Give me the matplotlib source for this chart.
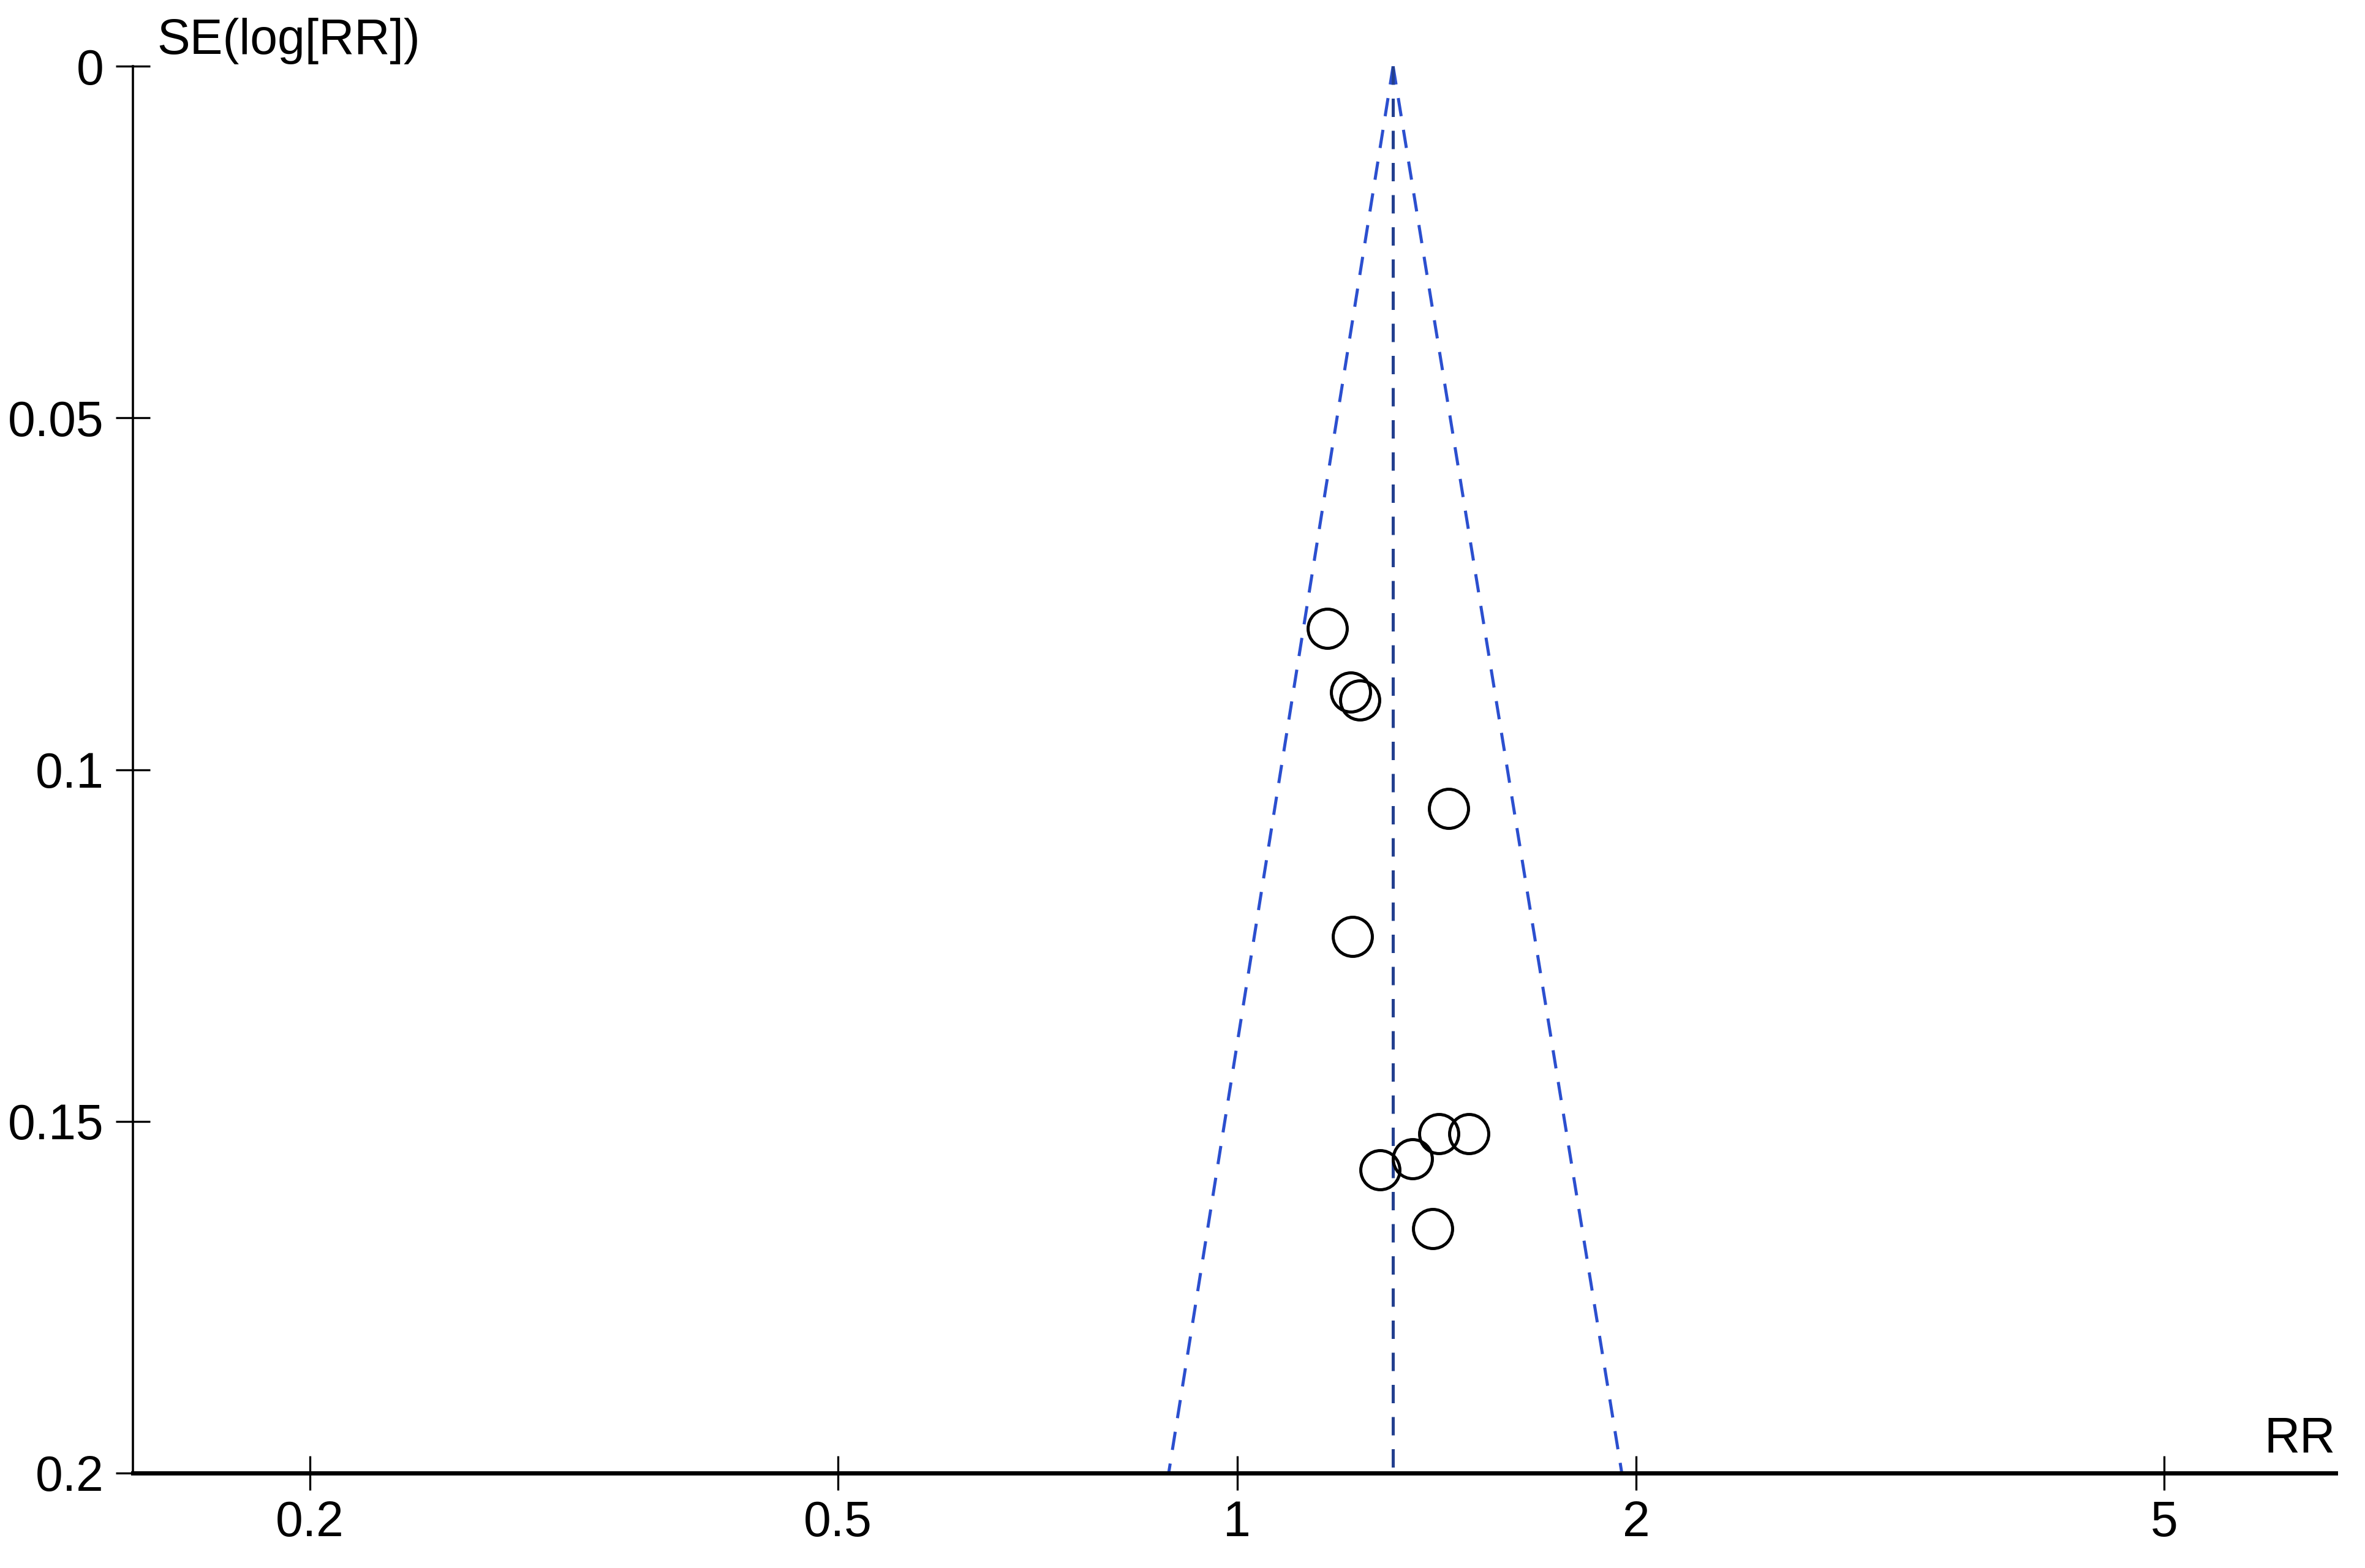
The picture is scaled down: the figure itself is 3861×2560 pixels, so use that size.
import numpy as np
import matplotlib
matplotlib.use('Agg')
import matplotlib.pyplot as plt

# study estimates
rr = [1.170, 1.218, 1.237, 1.443, 1.222, 1.420, 1.495, 1.356, 1.281, 1.404]
se = [0.0799, 0.0890, 0.0901, 0.1055, 0.1237, 0.1518, 0.1518, 0.1553, 0.1569, 0.1653]

# pooled estimate and funnel limits (apex at se=0, base at se=0.2)
pooled_rr = 1.311
funnel_se = [0, 0.2]
funnel_left = [1.311, 0.888]
funnel_right = [1.311, 1.95]

xticks = [0.2, 0.5, 1, 2, 5]
xticklabels = ['0.2', '0.5', '1', '2', '5']
yticks = [0, 0.05, 0.1, 0.15, 0.2]
yticklabels = ['0', '0.05', '0.1', '0.15', '0.2']

plt.rcParams['font.family'] = ['Liberation Sans', 'DejaVu Sans']

fig = plt.figure(figsize=(19.31, 12.8), dpi=200)
ax = fig.add_axes([0.0561, 0.0606, 0.9311, 0.8971])

blue = '#2b4fcf'
ax.plot(funnel_left, funnel_se, color=blue, lw=1.8, dashes=(6, 4.5))
ax.plot(funnel_right, funnel_se, color=blue, lw=1.8, dashes=(6, 4.5))
ax.plot([pooled_rr, pooled_rr], funnel_se, color='#23408f', lw=1.8, dashes=(6, 4.5))

ax.plot(rr, se, 'o', ms=23, mfc='none', mec='black', mew=1.8)

ax.set_xscale('log')
ax.set_xlim(0.147, 6.73)
ax.set_ylim(0.2, 0)

ax.set_xticks(xticks)
ax.set_xticklabels(xticklabels)
ax.xaxis.set_minor_locator(matplotlib.ticker.NullLocator())
ax.set_yticks(yticks)
ax.set_yticklabels(yticklabels)

ax.tick_params(axis='both', direction='inout', length=20, width=1.2, labelsize=29, colors='black')
ax.tick_params(axis='y', pad=7)
ax.tick_params(axis='x', pad=6)

ax.spines['top'].set_visible(False)
ax.spines['right'].set_visible(False)
ax.spines['left'].set_linewidth(1.3)
ax.spines['bottom'].set_linewidth(2.5)

ax.text(0.011, 1.018, 'SE(log[RR])', transform=ax.transAxes, fontsize=29,
        ha='left', va='center')
ax.text(1.0, 0.024, 'RR', transform=ax.transAxes, fontsize=29,
        ha='right', va='center')

fig.savefig('out.png', dpi=200, facecolor='white')
